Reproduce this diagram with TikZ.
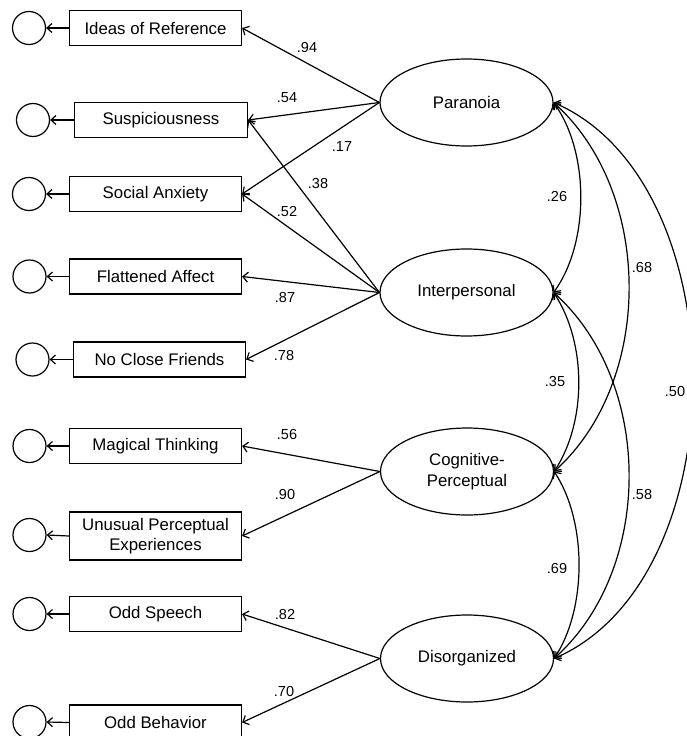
\documentclass[tikz,border=0pt]{standalone}
\usepackage{fontspec}
\setmainfont{Liberation Sans}
\usetikzlibrary{arrows.meta,shapes.geometric}
\begin{document}
\begin{tikzpicture}[x=1pt,y=-1pt,
  every node/.style={font=\fontsize{16.8}{20.5}\selectfont},
  obs/.style={draw, rectangle, minimum width=172pt, minimum height=35pt, inner sep=0pt, line width=1.2pt, align=center},
  err/.style={draw, circle, minimum size=33pt, inner sep=0pt, line width=1.2pt},
  lat/.style={draw, ellipse, minimum width=173pt, minimum height=87pt, inner sep=0pt, line width=1.2pt, align=center},
  lab/.style={font=\fontsize{14.5}{17}\selectfont, inner sep=0pt},
  arr/.style={line width=1.2pt, -{Straight Barb[length=5pt,width=10pt]}},
  earr/.style={line width=1.2pt, -{Straight Barb[length=5pt,width=9pt]}},
  dbl/.style={line width=1.2pt, {Straight Barb[length=5pt,width=10pt]}-{Straight Barb[length=5pt,width=10pt]}},
]
\fill[white] (0,0) rectangle (686,736);
\useasboundingbox (0,0) rectangle (686,736);

% observed indicators and errors
\node[err] (e1) at (29,28) {};
\node[obs] (o1) at (155.5,28) {Ideas of Reference};
\node[err] (e2) at (33,120) {};
\node[obs, minimum width=173pt] (o2) at (161,120) {Suspiciousness};
\node[err] (e3) at (29,194) {};
\node[obs] (o3) at (155.5,194) {Social Anxiety};
\node[err] (e4) at (29.5,276.5) {};
\node[obs] (o4) at (155.5,276.5) {Flattened Affect};
\node[err] (e5) at (32.5,359.5) {};
\node[obs] (o5) at (159.5,359.5) {No Close Friends};
\node[err] (e6) at (29.5,446) {};
\node[obs] (o6) at (155.5,446) {Magical Thinking};
\node[err] (e7) at (29.5,535) {};
\node[obs, minimum height=48pt] (o7) at (155.5,536) {Unusual Perceptual\\Experiences};
\node[err] (e8) at (29.5,614) {};
\node[obs] (o8) at (155.5,614) {Odd Speech};
\node[err] (e9) at (29.5,722) {};
\node[obs] (o9) at (155.5,722.5) {Odd Behavior};

\foreach \i in {1,...,9} {\draw[earr] (o\i.west) -- (e\i.east);}

% latent factors
\node[lat] (P) at (466.5,102.5) {Paranoia};
\node[lat] (I) at (466.5,292.5) {Interpersonal};
\node[lat] (C) at (467,471.5) {Cognitive-\\Perceptual};
\node[lat] (D) at (467,658.5) {Disorganized};

% loadings
\draw[arr] (P.west) -- (o1.east);
\draw[arr] (P.west) -- (o2.east);
\draw[arr] (P.west) -- (o3.east);
\draw[arr] (I.west) -- (o2.east);
\draw[arr] (I.west) -- (o3.east);
\draw[arr] (I.west) -- (o4.east);
\draw[arr] (I.west) -- (o5.east);
\draw[arr] (C.west) -- (o6.east);
\draw[arr] (C.west) -- (o7.east);
\draw[arr] (D.west) -- (o8.east);
\draw[arr] (D.west) -- (o9.east);

% loading labels
\node[lab] (l1) at (307,48) {.94};
\node[lab] (l2) at (287,98) {.54};
\node[lab] (l3) at (342,147) {.17};
\node[lab] (l4) at (318,184) {.38};
\node[lab] (l5) at (287,212) {.52};
\node[lab] (l6) at (285,298) {.87};
\node[lab] (l7) at (284,356) {.78};
\node[lab] (l8) at (287,435) {.56};
\node[lab] (l9) at (285,495) {.90};
\node[lab] (l10) at (285,615) {.82};
\node[lab] (l11) at (284,691) {.70};

% correlations
\draw[dbl] (P.east) .. controls +(36,50) and +(36,-50) .. (I.east);
\draw[dbl] (P.east) .. controls +(100,90) and +(100,-90) .. (C.east);
\draw[dbl] (P.east) .. controls +(185,80) and +(185,-80) .. (D.east);
\draw[dbl] (I.east) .. controls +(33,50) and +(33,-50) .. (C.east);
\draw[dbl] (I.east) .. controls +(100,90) and +(100,-90) .. (D.east);
\draw[dbl] (C.east) .. controls +(33,50) and +(33,-50) .. (D.east);

% correlation labels
\node[lab] (c1) at (557,197) {.26};
\node[lab] (c2) at (642,268) {.68};
\node[lab] (c3) at (675,392) {.50};
\node[lab] (c4) at (555,382) {.35};
\node[lab] (c5) at (642,495) {.58};
\node[lab] (c6) at (557,569) {.69};
\end{tikzpicture}
\end{document}
